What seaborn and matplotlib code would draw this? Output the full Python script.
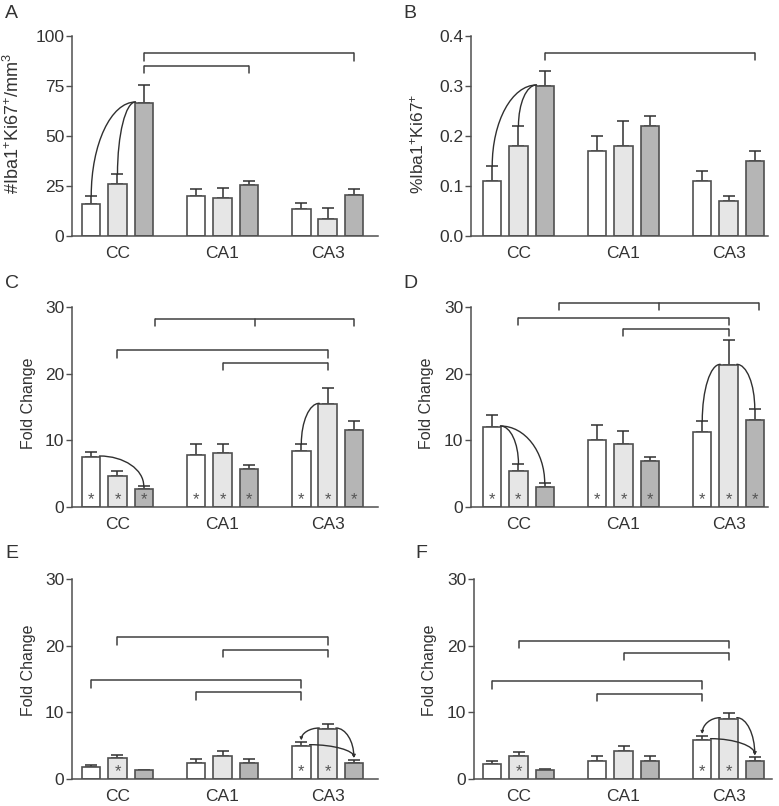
import numpy as np
import pandas as pd
import matplotlib.pyplot as plt
from matplotlib.path import Path
from matplotlib.patches import FancyArrowPatch
import seaborn as sns

# ---- data (order: CC, CA1, CA3 x three groups) ----
regions = ['CC', 'CA1', 'CA3']
groups = ['1', '2', '3']

a_mean = [16.0, 26.0, 66.5, 19.8, 19.0, 25.4, 13.3, 8.3, 20.3]
a_sem = [4.0, 4.8, 9.2, 3.5, 4.8, 2.3, 3.4, 5.9, 3.0]

b_mean = [0.11, 0.18, 0.30, 0.17, 0.18, 0.22, 0.11, 0.07, 0.15]
b_sem = [0.03, 0.04, 0.03, 0.03, 0.05, 0.02, 0.02, 0.01, 0.02]

c_mean = [7.5, 4.6, 2.75, 7.85, 8.1, 5.7, 8.35, 15.4, 11.5]
c_sem = [0.75, 0.85, 0.4, 1.6, 1.35, 0.55, 1.1, 2.45, 1.35]
c_star = [1, 1, 1, 1, 1, 1, 1, 1, 1]

d_mean = [12.0, 5.45, 2.95, 10.0, 9.5, 6.95, 11.2, 21.25, 13.0]
d_sem = [1.85, 1.0, 0.6, 2.25, 1.85, 0.6, 1.65, 3.75, 1.7]
d_star = [1, 1, 0, 1, 1, 1, 1, 1, 1]

e_mean = [1.8, 3.2, 1.3, 2.4, 3.5, 2.4, 5.0, 7.5, 2.4]
e_sem = [0.35, 0.35, 0.05, 0.6, 0.65, 0.65, 0.55, 0.8, 0.5]
e_star = [0, 1, 0, 0, 0, 0, 1, 1, 0]

f_mean = [2.25, 3.5, 1.3, 2.75, 4.15, 2.65, 5.9, 9.05, 2.65]
f_sem = [0.5, 0.5, 0.2, 0.75, 0.85, 0.85, 0.6, 0.85, 0.65]
f_star = [0, 1, 0, 0, 0, 0, 1, 1, 0]

# brackets: list of (region, group[, nudge]) anchors, height, drop
a_brackets = [([(0, 2), (2, 2)], 91.7, 4.0), ([(0, 2), (1, 2)], 85.0, 3.3)]
b_brackets = [([(0, 2), (2, 2)], 0.367, 0.015)]
c_brackets = [([(0, 2, 0.11), (1, 2, 0.06), (2, 2)], 28.2, 1.0),
              ([(0, 1), (2, 1)], 23.5, 1.15), ([(1, 1), (2, 1)], 21.6, 1.0)]
d_brackets = [([(0, 2, 0.14), (1, 2, 0.09), (2, 2, 0.04)], 30.6, 1.1),
              ([(0, 1), (2, 1)], 28.35, 1.0), ([(1, 1), (2, 1)], 26.7, 1.0)]
e_brackets = [([(0, 1), (2, 1)], 21.25, 1.1), ([(1, 1), (2, 1)], 19.4, 1.1),
              ([(0, 0), (2, 0)], 14.8, 1.15), ([(1, 0), (2, 0)], 13.0, 1.1)]
f_brackets = [([(0, 1), (2, 1)], 20.65, 1.0), ([(1, 1), (2, 1)], 18.9, 1.1),
              ([(0, 0), (2, 0)], 14.65, 1.1), ([(1, 0), (2, 0)], 12.8, 1.05)]

# curved connectors: (from bar, to bar)
a_arcs = [((0, 2), (0, 0)), ((0, 2), (0, 1))]
b_arcs = [((0, 2), (0, 0)), ((0, 2), (0, 1))]
c_arcs = [((0, 0), (0, 2)), ((2, 1), (2, 0))]
d_arcs = [((0, 0), (0, 1)), ((0, 0), (0, 2)), ((2, 1), (2, 0)), ((2, 1), (2, 2))]
e_arcs = [((2, 1), (2, 0)), ((2, 1), (2, 2)), ((2, 0), (2, 2))]
f_arcs = [((2, 1), (2, 0)), ((2, 1), (2, 2)), ((2, 0), (2, 2))]

palette = ['#ffffff', '#e6e6e6', '#b5b5b5']
EDGE = '#505050'
INK = '#404040'

sns.set_style('ticks')
plt.rcParams['font.family'] = ['Liberation Sans', 'DejaVu Sans']
plt.rcParams['mathtext.fontset'] = 'custom'
plt.rcParams['mathtext.rm'] = 'Liberation Sans'
plt.rcParams['mathtext.it'] = 'Liberation Sans:italic'
plt.rcParams['mathtext.bf'] = 'Liberation Sans:bold'

W, H = 779, 806
fig = plt.figure(figsize=(W / 100, H / 100), dpi=100)


def make_ax(left, right, top, bottom):
    return fig.add_axes([left / W, 1 - bottom / H, (right - left) / W, (bottom - top) / H])


def panel(ax, mean, sem, stars, brackets, arcs, ylim, yticks, ylabel, lab_xy,
          xlim, yfmt=None, arrows=False, ylabel_size=11.5):
    n = len(groups)
    df = pd.DataFrame({
        'region': [regions[i // n] for i in range(len(mean))],
        'group': [groups[i % n] for i in range(len(mean))],
        'value': mean,
    })
    sns.barplot(data=df, x='region', y='value', hue='group', order=regions,
                hue_order=groups, palette=palette, saturation=1, width=0.75,
                gap=0.3, errorbar=None, legend=False, edgecolor=EDGE,
                linewidth=1.2, ax=ax, zorder=2)

    # bar geometry from the drawn bars
    pos, half = {}, {}
    for h, cont in enumerate(ax.containers):
        for r, bar in enumerate(cont):
            pos[(r, h)] = bar.get_x() + bar.get_width() / 2
            half[(r, h)] = bar.get_width() / 2

    def val(r, h):
        return mean[r * n + h]

    def top(r, h):
        return mean[r * n + h] + sem[r * n + h]

    xs = [pos[(i // n, i % n)] for i in range(len(mean))]
    ax.errorbar(xs, mean, yerr=[np.zeros(len(sem)), sem], fmt='none',
                ecolor='#303030', elinewidth=1.1, capsize=4, capthick=1.1, zorder=1)

    for i, s in enumerate(stars):
        if s:
            ax.text(xs[i], 0.035, '*', transform=ax.get_xaxis_transform(),
                    ha='center', va='center', fontsize=12, color='#555555', zorder=3)

    for anchors, y, drop in brackets:
        bx = [pos[(a[0], a[1])] + (a[2] if len(a) > 2 else 0) for a in anchors]
        ax.plot([bx[0], bx[-1]], [y, y], color=INK, lw=1.1, clip_on=False,
                solid_capstyle='butt')
        for x in bx:
            ax.plot([x, x], [y, y - drop], color=INK, lw=1.1, clip_on=False)

    k = 0.5523
    for src, tgt in arcs:
        side = np.sign(pos[tgt] - pos[src])
        x0 = pos[src] + side * half[src] * 0.9
        y0 = val(*src) + (ylim[1] * 0.005)
        x1 = pos[tgt]
        y1 = top(*tgt) + (ylim[1] * 0.008 if arrows else 0)
        verts = [(x0, y0), (x0 + k * (x1 - x0), y0), (x1, y1 + k * (y0 - y1)), (x1, y1)]
        path = Path(verts, [Path.MOVETO, Path.CURVE4, Path.CURVE4, Path.CURVE4])
        patch = FancyArrowPatch(path=path, arrowstyle='->' if arrows else '-',
                                mutation_scale=4, color='#303030', lw=1.0, zorder=4)
        ax.add_patch(patch)

    ax.set_xlim(*xlim)
    ax.set_ylim(*ylim)
    ax.set_yticks(yticks)
    if yfmt:
        ax.set_yticklabels([yfmt.format(t) for t in yticks])
    ax.set_xlabel('')
    ax.set_ylabel(ylabel, fontsize=ylabel_size, color='#333333')
    ax.yaxis.set_label_coords(*lab_xy)
    sns.despine(ax=ax)
    for sp in ('left', 'bottom'):
        ax.spines[sp].set_color(EDGE)
        ax.spines[sp].set_linewidth(1.1)
    ax.tick_params(axis='y', length=4, width=1, color=EDGE, labelsize=12.5,
                   labelcolor='#333333', pad=1.5)
    ax.tick_params(axis='x', length=0, labelsize=12.5, labelcolor='#333333', pad=7)


fc = 'Fold Change'
axA = make_ax(72, 378, 36, 236)
panel(axA, a_mean, a_sem, [0] * 9, a_brackets, a_arcs, (0, 100), [0, 25, 50, 75, 100],
      r'#Iba1$^{+}$Ki67$^{+}$/mm$^{3}$', (-0.16, 0.56), (-0.433, 2.48), ylabel_size=13)
axB = make_ax(471, 768, 36, 236)
panel(axB, b_mean, b_sem, [0] * 9, b_brackets, b_arcs, (0, 0.4), [0, 0.1, 0.2, 0.3, 0.4],
      r'%Iba1$^{+}$Ki67$^{+}$', (-0.15, 0.46), (-0.452, 2.376), yfmt='{:.1f}',
      ylabel_size=12.5)
axC = make_ax(72, 378, 307, 507)
panel(axC, c_mean, c_sem, c_star, c_brackets, c_arcs, (0, 30), [0, 10, 20, 30],
      fc, (-0.118, 0.52), (-0.433, 2.48))
axD = make_ax(471, 768, 307, 507)
panel(axD, d_mean, d_sem, d_star, d_brackets, d_arcs, (0, 30), [0, 10, 20, 30],
      fc, (-0.125, 0.52), (-0.452, 2.376))
axE = make_ax(72, 378, 579, 779)
panel(axE, e_mean, e_sem, e_star, e_brackets, e_arcs, (0, 30), [0, 10, 20, 30],
      fc, (-0.118, 0.545), (-0.433, 2.48), arrows=True)
axF = make_ax(474, 772, 579, 779)
panel(axF, f_mean, f_sem, f_star, f_brackets, f_arcs, (0, 30), [0, 10, 20, 30],
      fc, (-0.125, 0.545), (-0.424, 2.414), arrows=True)

for letter, (x, y) in {'A': (5, 5), 'B': (403, 5), 'C': (5, 275),
                       'D': (403, 275), 'E': (5, 545), 'F': (415, 545)}.items():
    fig.text(x / W, 1 - y / H, letter, fontsize=14, color='#333333', va='top', ha='left')

fig.savefig('out.png', dpi=100)
